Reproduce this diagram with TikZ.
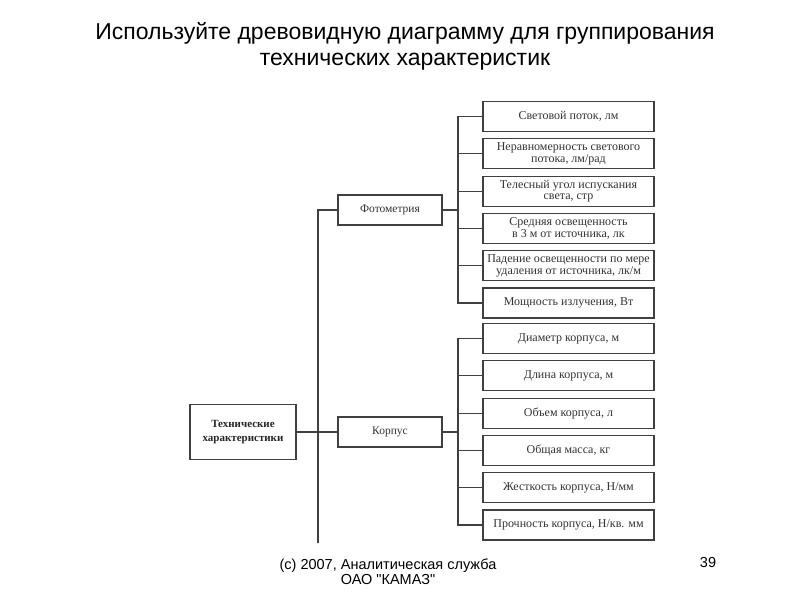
\documentclass[tikz,border=0pt]{standalone}
\usepackage{fontspec}
\setmainfont{Liberation Serif}
\newfontfamily\slidefont{Liberation Sans}
\usetikzlibrary{arrows}

\begin{document}
\begin{tikzpicture}[x=1pt,y=-1pt]
  \tikzset{
    root/.style={draw=black!75, rectangle, line width=1.1pt, minimum width=106pt, minimum height=55pt, inner sep=1pt, align=center, font=\fontsize{11}{13.5}\selectfont\bfseries, text=black!85},
    group/.style={draw=black!75, rectangle, line width=1.1pt, minimum width=104pt, minimum height=30pt, font=\fontsize{11.5}{12}\selectfont, text=black!80},
    leaf/.style={draw=black!75, rectangle, line width=1.1pt, minimum width=171pt, minimum height=30pt, inner sep=1pt, align=center, font=\fontsize{12}{11.8}\selectfont, text=black!80, node distance=37.3pt},
    line/.style={draw=black!75, line width=1.1pt},
    caption/.style={font=\slidefont\fontsize{23}{26}\selectfont, align=center},
    footer/.style={font=\slidefont\fontsize{14.5}{15}\selectfont, align=center},
  }
  \useasboundingbox [fill=white] (0,0) rectangle (800,600);

  \node [caption] (title) at (405,46) {Используйте древовидную диаграмму для группирования\\технических характеристик};

  \node [root] (tech) at (243,432) {Технические\\характеристики};
  \node [group] (photo) at (390,210) {Фотометрия};
  \node [group] (korp) at (390,432) {Корпус};

  \node [leaf] (l1) at (568.5,116.5) {Световой поток, лм};
  \node [leaf, below of = l1] (l2) {Неравномерность светового\\потока, лм/рад};
  \node [leaf, below of = l2] (l3) {Телесный угол испускания\\света, стр};
  \node [leaf, below of = l3] (l4) {Средняя освещенность\\в 3 м от источника, лк};
  \node [leaf, below of = l4] (l5) {Падение освещенности по мере\\удаления от источника, лк/м};
  \node [leaf, below of = l5] (l6) {Мощность излучения, Вт};

  \node [leaf] (k1) at (568.5,338.5) {Диаметр корпуса, м};
  \node [leaf, below of = k1] (k2) {Длина корпуса, м};
  \node [leaf, below of = k2] (k3) {Объем корпуса, л};
  \node [leaf, below of = k3] (k4) {Общая масса, кг};
  \node [leaf, below of = k4] (k5) {Жесткость корпуса, Н/мм};
  \node [leaf, below of = k5] (k6) {Прочность корпуса, Н/кв. мм};

  \coordinate (trunk) at (318,543);
  \coordinate (pb) at (458,210);
  \coordinate (kb) at (458,432);

  % trunk
  \path [line] (trunk) |- (photo);
  \path [line] (tech) -- (korp);

  % photometry bracket
  \path [line] (photo) -- (pb);
  \path [line] (pb) |- (l1);
  \path [line] (pb) |- (l2);
  \path [line] (pb) |- (l3);
  \path [line] (pb) |- (l4);
  \path [line] (pb) |- (l5);
  \path [line] (pb) |- (l6);

  % korpus bracket
  \path [line] (korp) -- (kb);
  \path [line] (kb) |- (k1);
  \path [line] (kb) |- (k2);
  \path [line] (kb) |- (k3);
  \path [line] (kb) |- (k4);
  \path [line] (kb) |- (k5);
  \path [line] (kb) |- (k6);

  \node [footer] (copyr) at (388,572) {(c) 2007, Аналитическая служба\\ОАО "КАМАЗ"};
  \node [footer, anchor=base] (page) at (708,567) {39};
\end{tikzpicture}
\end{document}
